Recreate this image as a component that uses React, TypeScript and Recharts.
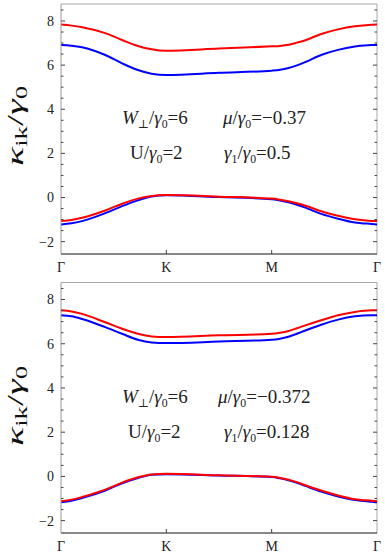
import { Line, LineChart, ReferenceLine, XAxis, YAxis } from "recharts";

// path Γ(0) → K(1) → M(2) → Γ(3)
const kPath = [0, 0.1, 0.2, 0.42, 0.58, 0.73, 0.86, 1, 1.5, 2, 2.08, 2.16, 2.24, 2.32, 2.47, 2.63, 2.79, 2.95, 3];
const kTicks = [0, 1, 2, 3];
const kLabels = ["Γ", "K", "M", "Γ"];
const yTicks = [-2, -1.5, -1, -0.5, 0, 0.5, 1, 1.5, 2, 2.5, 3, 3.5, 4, 4.5, 5, 5.5, 6, 6.5, 7, 7.5, 8, 8.5];
const yDomain = [-2.56, 8.77];

// upper panel
const redUpperA = [7.84, 7.79, 7.72, 7.45, 7.14, 6.87, 6.72, 6.65, 6.75, 6.85, 6.87, 6.92, 7.02, 7.13, 7.41, 7.62, 7.76, 7.83, 7.84];
const blueUpperA = [6.91, 6.88, 6.81, 6.46, 6.08, 5.78, 5.61, 5.55, 5.65, 5.75, 5.79, 5.87, 5.99, 6.14, 6.46, 6.69, 6.84, 6.91, 6.91];
const redLowerA = [-1.07, -1.02, -0.92, -0.59, -0.28, -0.05, 0.07, 0.11, 0.04, -0.05, -0.1, -0.17, -0.26, -0.37, -0.62, -0.83, -0.98, -1.06, -1.07];
const blueLowerA = [-1.22, -1.17, -1.07, -0.71, -0.39, -0.13, 0.04, 0.1, 0.02, -0.08, -0.14, -0.22, -0.33, -0.46, -0.74, -0.96, -1.13, -1.2, -1.22];

// lower panel
const redUpperB = [7.51, 7.46, 7.35, 6.97, 6.68, 6.45, 6.33, 6.3, 6.38, 6.45, 6.5, 6.58, 6.7, 6.83, 7.06, 7.29, 7.44, 7.51, 7.51];
const blueUpperB = [7.29, 7.24, 7.12, 6.75, 6.45, 6.18, 6.06, 6.03, 6.1, 6.18, 6.23, 6.32, 6.45, 6.6, 6.86, 7.09, 7.24, 7.29, 7.29];
const redLowerB = [-1.12, -1.05, -0.93, -0.6, -0.28, -0.04, 0.09, 0.12, 0.05, -0.02, -0.07, -0.15, -0.26, -0.4, -0.64, -0.86, -1.03, -1.1, -1.12];
const blueLowerB = [-1.17, -1.1, -0.98, -0.64, -0.31, -0.07, 0.08, 0.1, 0.04, -0.03, -0.09, -0.18, -0.29, -0.43, -0.69, -0.91, -1.07, -1.15, -1.17];

const serif = "Liberation Serif, DejaVu Serif, serif";
const W = 385;
const H = 279;
const PLOT_W = 316;

const fmt = (v: number) => (v < 0 ? `\u2212${-v}` : `${v}`);

function YTick(props: any) {
  const { x, y, payload } = props;
  const v = payload.value;
  const major = Math.abs(v % 2) < 1e-6;
  const len = major ? 4 : 2.5;
  return (
    <g>
      <line x1={x} x2={x + len} y1={y} y2={y} stroke="#444" />
      <line x1={x + PLOT_W} x2={x + PLOT_W - len} y1={y} y2={y} stroke="#444" />
      {major && (
        <text x={x - 7} y={y} dy="0.35em" textAnchor="end" fontFamily={serif} fontSize={14} fill="#222">
          {fmt(v)}
        </text>
      )}
    </g>
  );
}

function XTick(props: any) {
  const { x, y, payload } = props;
  const v = payload.value;
  const inner = v > 0 && v < 3;
  return (
    <g>
      {inner && <line x1={x} x2={x} y1={y} y2={y - 4} stroke="#444" />}
      <text x={x} y={y + 13} dy="0.35em" textAnchor="middle" fontFamily={serif} fontSize={14} fill="#222">
        {kLabels[kTicks.indexOf(v)]}
      </text>
    </g>
  );
}

const sub = { fontSize: "0.62em", verticalAlign: "-0.3em", lineHeight: 0 } as const;

function Note({ left, top, children }: { left: number; top: number; children: any }) {
  return (
    <div
      style={{
        position: "absolute",
        left,
        top: top - 10,
        fontFamily: serif,
        fontSize: 19,
        lineHeight: "20px",
        whiteSpace: "nowrap",
        color: "#222"
      }}
    >
      {children}
    </div>
  );
}

function YLabel({ cy }: { cy: number }) {
  return (
    <text
      transform={`translate(23, ${cy}) rotate(-90)`}
      textAnchor="middle"
      fontFamily={serif}
      fontSize={24}
      fill="#111"
      textLength={80}
      lengthAdjust="spacingAndGlyphs"
    >
      <tspan fontStyle="italic">κ</tspan>
      <tspan fontSize={16} dy={4}>
        ik
      </tspan>
      <tspan dy={-4}>/</tspan>
      <tspan fontStyle="italic">γ</tspan>
      <tspan fontSize={16} dy={4}>
        0
      </tspan>
    </text>
  );
}

function Panel({
  top,
  marginTop,
  red1,
  blue1,
  red2,
  blue2
}: {
  top: number;
  marginTop: number;
  red1: number[];
  blue1: number[];
  red2: number[];
  blue2: number[];
}) {
  const data = kPath.map((k, i) => ({ k, r1: red1[i], b1: blue1[i], r2: red2[i], b2: blue2[i] }));
  return (
    <div style={{ position: "absolute", left: 0, top }}>
      <LineChart width={W} height={H} data={data} margin={{ top: marginTop, right: 8, left: 11, bottom: 0 }}>
        <XAxis
          dataKey="k"
          type="number"
          domain={[0, 3]}
          ticks={kTicks}
          interval={0}
          height={25}
          tickSize={0}
          tickMargin={0}
          tickLine={false}
          axisLine={{ stroke: "#111" }}
          tick={(p: any) => <XTick {...p} />}
        />
        <YAxis
          type="number"
          domain={yDomain}
          ticks={yTicks}
          interval={0}
          allowDataOverflow
          width={50}
          tickSize={0}
          tickMargin={0}
          tickLine={false}
          axisLine={{ stroke: "#9a9a9a" }}
          tick={(p: any) => <YTick {...p} />}
        />
        <ReferenceLine y={yDomain[1]} stroke="#a8a8a8" />
        <ReferenceLine x={3} stroke="#a8a8a8" />
        <Line type="monotone" dataKey="b1" stroke="#0000ff" strokeWidth={2} dot={false} isAnimationActive={false} />
        <Line type="monotone" dataKey="r1" stroke="#ff0000" strokeWidth={2} dot={false} isAnimationActive={false} />
        <Line type="monotone" dataKey="b2" stroke="#0000ff" strokeWidth={2} dot={false} isAnimationActive={false} />
        <Line type="monotone" dataKey="r2" stroke="#ff0000" strokeWidth={2} dot={false} isAnimationActive={false} />
      </LineChart>
    </div>
  );
}

export default function App() {
  return (
    <div style={{ position: "absolute", left: 0, top: 0, width: W, height: 558, background: "#fff" }}>
      <Panel top={0} marginTop={4} red1={redUpperA} blue1={blueUpperA} red2={redLowerA} blue2={blueLowerA} />
      <Panel top={279} marginTop={3.5} red1={redUpperB} blue1={blueUpperB} red2={redLowerB} blue2={blueLowerB} />

      <svg width={W} height={558} style={{ position: "absolute", left: 0, top: 0, pointerEvents: "none" }}>
        <YLabel cy={126} />
        <YLabel cy={406} />
      </svg>

      <Note left={122} top={118}>
        <i>W</i>
        <span style={sub}>⊥</span>/<i>γ</i>
        <span style={sub}>0</span>=6
      </Note>
      <Note left={223} top={118}>
        <i>μ</i>/<i>γ</i>
        <span style={sub}>0</span>=−0.37
      </Note>
      <Note left={130} top={153}>
        U/<i>γ</i>
        <span style={sub}>0</span>=2
      </Note>
      <Note left={224} top={153}>
        <i>γ</i>
        <span style={sub}>1</span>/<i>γ</i>
        <span style={sub}>0</span>=0.5
      </Note>

      <Note left={122} top={397}>
        <i>W</i>
        <span style={sub}>⊥</span>/<i>γ</i>
        <span style={sub}>0</span>=6
      </Note>
      <Note left={218} top={397}>
        <i>μ</i>/<i>γ</i>
        <span style={sub}>0</span>=−0.372
      </Note>
      <Note left={128} top={432}>
        U/<i>γ</i>
        <span style={sub}>0</span>=2
      </Note>
      <Note left={224} top={432}>
        <i>γ</i>
        <span style={sub}>1</span>/<i>γ</i>
        <span style={sub}>0</span>=0.128
      </Note>
    </div>
  );
}
